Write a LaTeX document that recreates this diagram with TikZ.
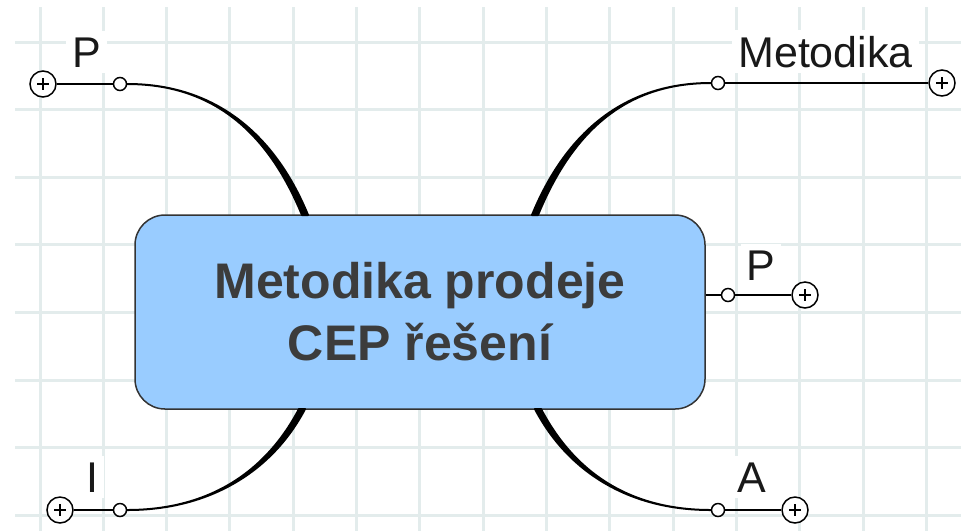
\documentclass[tikz,border=0pt]{standalone}
\usepackage{fontspec}
\setmainfont{Liberation Sans}
\usetikzlibrary{
    calc,
    positioning
}
\definecolor{gridline}{HTML}{E3ECEC}
\definecolor{corefill}{HTML}{99CCFF}
\definecolor{coretext}{HTML}{3C3C3C}
\tikzset{
    core/.style = {
        rectangle,
        rounded corners=15pt,
        draw=black!80,
        line width=0.75pt,
        fill=corefill,
        minimum width=285pt,
        minimum height=97pt,
        align=center,
        text=coretext,
        font=\fontsize{25}{31}\selectfont\bfseries
    },
    knob/.style = {
        circle,
        draw,
        fill=white,
        line width=0.75pt,
        minimum size=6.5pt,
        inner sep=0pt
    },
    plus/.style = {
        circle,
        draw,
        fill=white,
        line width=0.75pt,
        minimum size=13pt,
        inner sep=0pt,
        path picture={
            \draw[line width=0.6pt] (path picture bounding box.center)
                ++(-6,0) -- ++(12,0) ++(-6,-6) -- ++(0,12);
        }
    },
    tag/.style = {
        fill=white,
        inner sep=3pt,
        anchor=base,
        text=black!90,
        font=\fontsize{21.5}{26}\selectfont
    },
    twig/.style = {line width=0.75pt},
    limb/.style = {line width=1pt, line join=round, fill=black, draw=black},
    grid/.style = {gridline, line width=1.5pt}
}
% tapered branch: start node, foot on the box, two control offsets
\newcommand\limbto[4]{%
    \filldraw[limb] (#1) .. controls +(#3) and +(#4) .. ($(#2)+(3,0)$)
        -- ($(#2)+(-3,0)$) .. controls +(#4) and +(#3) .. (#1) -- cycle;}

\begin{document}
\begin{tikzpicture}[x=0.5pt, y=-0.5pt]
        \useasboundingbox (0,0) rectangle (961,531);

        % background grid
        \foreach \gx in {0,...,14}
            \draw[grid] ({40+63.33*\gx},7) -- ({40+63.33*\gx},531);
        \foreach \gy in {0,...,7}
            \draw[grid] (15,{42+67.6*\gy}) -- (961,{42+67.6*\gy});

        \node[core] (core) at (420,312) {Metodika prodeje\\CEP řešení};

        \coordinate (tlf) at (305,215);
        \coordinate (trf) at (535,215);
        \coordinate (blf) at (302,409);
        \coordinate (brf) at (538,409);

        \node[plus] (tlp) at (43,84) {};
        \node[knob] (tlk) at (120,84) {};
        \node[tag] (tlt) at (86.5,67) {P};

        \node[knob] (trk) at (718,83) {};
        \node[plus] (trp) at (942,83) {};
        \node[tag] (trt) at (825.5,67) {Metodika};

        \node[knob] (rk) at (728,295) {};
        \node[plus] (rp) at (805,295) {};
        \node[tag] (rt) at (761,280) {P};

        \node[knob] (brk) at (718,510) {};
        \node[plus] (brp) at (795,510) {};
        \node[tag] (brt) at (751.5,492) {A};

        \node[plus] (blp) at (60,510) {};
        \node[knob] (blk) at (120,510) {};
        \node[tag] (blt) at (92,492) {I};

        \draw[twig] (tlp) -- (tlk);
        \draw[twig] (trk) -- (trp);
        \draw[twig] (core.east |- rk) -- (rk);
        \draw[twig] (rk) -- (rp);
        \draw[twig] (brk) -- (brp);
        \draw[twig] (blp) -- (blk);

        \limbto{tlk.east}{tlf}{84,0}{-35,-85}
        \limbto{trk.west}{trf}{-84,0}{35,-85}
        \limbto{blk.east}{blf}{84,0}{-32,61}
        \limbto{brk.west}{brf}{-84,0}{32,61}
    \end{tikzpicture}
\end{document}
